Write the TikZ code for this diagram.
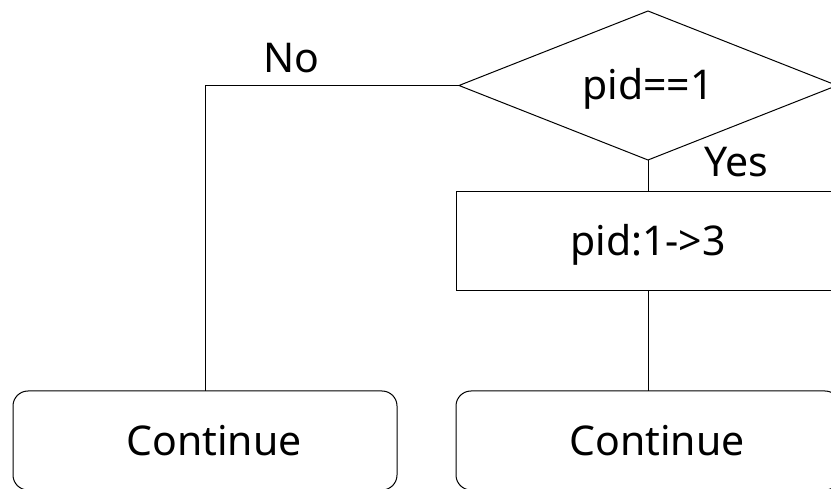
\documentclass[tikz,border=0pt]{standalone}
\usepackage{fontspec}
\setmainfont{Noto Sans}
\usetikzlibrary{shapes.geometric}
\begin{document}
\begin{tikzpicture}[x=1pt,y=-1pt,
  every node/.style={font=\fontsize{41}{49}\selectfont, inner sep=0pt, outer sep=0pt},
  shp/.style={draw=black, line width=1pt, text height=29pt, text depth=0pt},
  decision/.style={shp, diamond, aspect=2.54, minimum width=378pt, minimum height=149pt},
  procbox/.style={shp, rectangle, minimum width=384pt, minimum height=99pt},
  endbox/.style={shp, rectangle, rounded corners=15pt, minimum width=384pt, minimum height=99pt},
  conn/.style={draw=black, line width=1pt},
  lbl/.style={anchor=base}
]
\useasboundingbox (0,0) rectangle (831,489);
\clip (0,0) rectangle (831,489);
\fill[white] (0,0) rectangle (831,489);

\node[decision] (d) at (648,85.5) {pid==1};
\node[procbox] (p) at (648,241.5) {pid:1->3};
\node[endbox] (c1) at (205,440.5) {\hspace*{18pt}Continue};
\node[endbox] (c2) at (648,440.5) {\hspace*{18pt}Continue};

\draw[conn] (d.south) -- (p.north);
\draw[conn] (p.south) -- (c2.north);
\draw[conn] (d.west) -| (c1.north);

\node[lbl] (no) at (291,73) {No};
\node[lbl] (yes) at (736,177) {Yes};
\end{tikzpicture}
\end{document}
